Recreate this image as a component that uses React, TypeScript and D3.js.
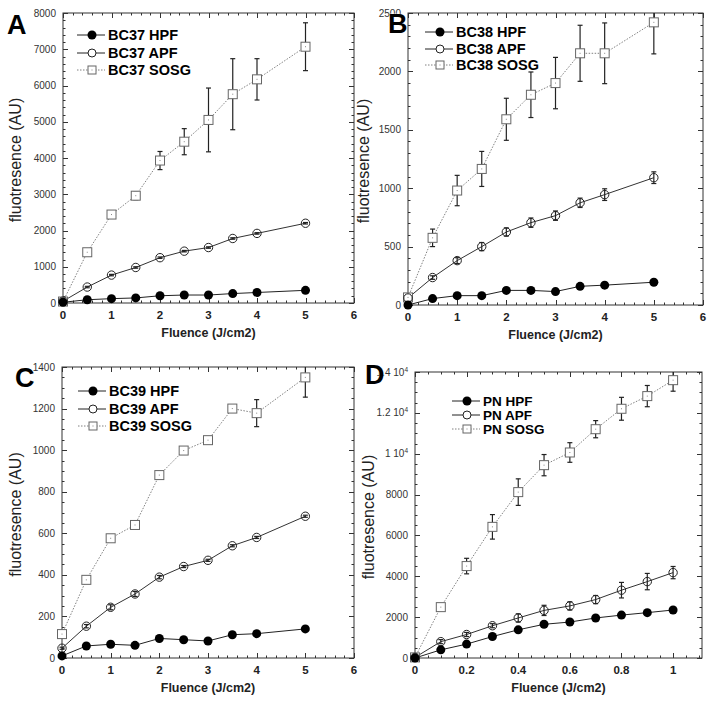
import { useEffect, useRef } from 'react'
import * as d3 from 'd3'

// fluence values
const xBC = [0, 0.5, 1, 1.5, 2, 2.5, 3, 3.5, 4, 5]
const xPN = [0, 0.1, 0.2, 0.3, 0.4, 0.5, 0.6, 0.7, 0.8, 0.9, 1]

// panel A - BC37
const bc37Hpf = [20, 90, 120, 140, 200, 220, 220, 260, 290, 350]
const bc37Apf = [50, 440, 770, 980, 1250, 1430, 1530, 1780, 1920, 2200]
const bc37ApfErr = [0, 20, 20, 20, 20, 20, 20, 20, 20, 20]
const bc37Sosg = [40, 1400, 2440, 2960, 3930, 4450, 5050, 5760, 6170, 7070]
const bc37SosgErr = [0, 60, 80, 110, 250, 360, 880, 980, 570, 660]

// panel B - BC38
const bc38Hpf = [0, 55, 80, 80, 125, 125, 115, 160, 170, 195]
const bc38Apf = [60, 235, 380, 500, 625, 705, 765, 875, 945, 1090]
const bc38ApfErr = [0, 15, 25, 35, 35, 40, 40, 40, 50, 50]
const bc38Sosg = [65, 575, 980, 1165, 1590, 1800, 1900, 2155, 2155, 2420]
const bc38SosgErr = [0, 75, 130, 150, 180, 195, 220, 240, 260, 270]

// panel C - BC39
const bc39Hpf = [10, 58, 66, 61, 94, 88, 82, 112, 117, 140]
const bc39Apf = [47, 153, 244, 308, 389, 440, 470, 540, 580, 682]
const bc39ApfErr = [5, 8, 12, 12, 8, 5, 5, 5, 5, 5]
const bc39Sosg = [115, 376, 576, 640, 880, 998, 1048, 1200, 1178, 1350]
const bc39SosgErr = [0, 0, 0, 0, 0, 0, 0, 0, 65, 95]

// panel D - PN
const pnHpf = [0, 400, 680, 1050, 1380, 1650, 1760, 1960, 2100, 2220, 2350]
const pnApf = [30, 800, 1150, 1580, 1960, 2330, 2550, 2860, 3320, 3740, 4180]
const pnApfErr = [0, 100, 100, 100, 200, 250, 200, 200, 380, 400, 300]
const pnSosg = [30, 2490, 4500, 6420, 8120, 9440, 10060, 11200, 12200, 12820, 13600]
const pnSosgErr = [0, 100, 380, 600, 650, 520, 480, 420, 560, 520, 540]

const yTicksA = [0, 1000, 2000, 3000, 4000, 5000, 6000, 7000, 8000]
const yTicksB = [0, 500, 1000, 1500, 2000, 2500]
const yTicksC = [0, 200, 400, 600, 800, 1000, 1200, 1400]
const yTicksD = [0, 2000, 4000, 6000, 8000, 10000, 12000, 14000]
const xTicksBC = [0, 1, 2, 3, 4, 5, 6]
const xTicksPN = [0, 0.2, 0.4, 0.6, 0.8, 1]

type Panel = {
  letter: string
  name: string
  left: number; right: number; top: number; bottom: number
  xs: number[]
  xMax: number; xTicks: number[]; xMinor: number
  yMax: number; yTicks: number[]; yMinor: number
  hpf: number[]; apf: number[]; apfErr: number[]; sosg: number[]; sosgErr: number[]
  letterX: number; letterY: number
  legX: number; legY: number[]; legFont: number
  yTitleX: number
  yFmt: (v: number) => string
}

const fmtPlain = (v: number) => String(v)
const fmtSci = (v: number) => (v >= 10000 ? `${v / 10000} 10|4` : String(v))

const panels: Panel[] = [
  {
    letter: 'A', name: 'BC37', left: 63, right: 354, top: 13, bottom: 303,
    xs: xBC, xMax: 6, xTicks: xTicksBC, xMinor: 0.2,
    yMax: 8000, yTicks: yTicksA, yMinor: 200,
    hpf: bc37Hpf, apf: bc37Apf, apfErr: bc37ApfErr, sosg: bc37Sosg, sosgErr: bc37SosgErr,
    letterX: 7, letterY: 34, legX: 77, legY: [35, 53, 70], legFont: 14.5, yTitleX: 15, yFmt: fmtPlain,
  },
  {
    letter: 'B', name: 'BC38', left: 408, right: 703, top: 13, bottom: 305,
    xs: xBC, xMax: 6, xTicks: xTicksBC, xMinor: 0.2,
    yMax: 2500, yTicks: yTicksB, yMinor: 100,
    hpf: bc38Hpf, apf: bc38Apf, apfErr: bc38ApfErr, sosg: bc38Sosg, sosgErr: bc38SosgErr,
    letterX: 388, letterY: 33, legX: 425, legY: [32, 49, 65], legFont: 14.5, yTitleX: 363, yFmt: fmtPlain,
  },
  {
    letter: 'C', name: 'BC39', left: 62, right: 354, top: 367, bottom: 658,
    xs: xBC, xMax: 6, xTicks: xTicksBC, xMinor: 0.2,
    yMax: 1400, yTicks: yTicksC, yMinor: 50,
    hpf: bc39Hpf, apf: bc39Apf, apfErr: bc39ApfErr, sosg: bc39Sosg, sosgErr: bc39SosgErr,
    letterX: 15, letterY: 387, legX: 78, legY: [391, 409, 426], legFont: 14.5, yTitleX: 15, yFmt: fmtPlain,
  },
  {
    letter: 'D', name: 'PN', left: 415, right: 702, top: 372, bottom: 658,
    xs: xPN, xMax: 1.112, xTicks: xTicksPN, xMinor: 0.05,
    yMax: 14000, yTicks: yTicksD, yMinor: 500,
    hpf: pnHpf, apf: pnApf, apfErr: pnApfErr, sosg: pnSosg, sosgErr: pnSosgErr,
    letterX: 365, letterY: 384, legX: 452, legY: [401, 415, 429], legFont: 13.5, yTitleX: 368, yFmt: fmtSci,
  },
]

const FONT = '"Liberation Sans", Arial, Helvetica, sans-serif'
const GREY = '#808080'

function drawPanel(svg: d3.Selection<SVGSVGElement, unknown, null, undefined>, p: Panel) {
  const x = d3.scaleLinear().domain([0, p.xMax]).range([p.left, p.right])
  const y = d3.scaleLinear().domain([0, p.yMax]).range([p.bottom, p.top])
  const g = svg.append('g')

  // frame
  g.append('rect')
    .attr('x', p.left).attr('y', p.top)
    .attr('width', p.right - p.left).attr('height', p.bottom - p.top)
    .attr('fill', 'none').attr('stroke', '#333').attr('stroke-width', 1)

  // ticks on all four sides, pointing inward
  const xMinorTicks = d3.range(0, p.xMax + 1e-9, p.xMinor)
  const yMinorTicks = d3.range(0, p.yMax + 1e-9, p.yMinor)
  const isMajor = (v: number, list: number[]) => list.some(t => Math.abs(t - v) < 1e-6)
  const tk = g.append('g').attr('stroke', '#333').attr('stroke-width', 1)
  xMinorTicks.forEach(v => {
    const len = isMajor(v, p.xTicks) ? 5 : 2.5
    const xx = Math.round(x(v)) + 0.5
    tk.append('line').attr('x1', xx).attr('x2', xx).attr('y1', p.bottom).attr('y2', p.bottom - len)
    tk.append('line').attr('x1', xx).attr('x2', xx).attr('y1', p.top).attr('y2', p.top + len)
  })
  yMinorTicks.forEach(v => {
    const len = isMajor(v, p.yTicks) ? 5 : 2.5
    const yy = Math.round(y(v)) + 0.5
    tk.append('line').attr('y1', yy).attr('y2', yy).attr('x1', p.left).attr('x2', p.left + len)
    tk.append('line').attr('y1', yy).attr('y2', yy).attr('x1', p.right).attr('x2', p.right - len)
  })

  // y tick labels
  p.yTicks.forEach(v => {
    const s = p.yFmt(v)
    const t = g.append('text')
      .attr('x', p.left - 7).attr('y', y(v) + 3.5)
      .attr('text-anchor', 'end')
      .attr('font-family', FONT).attr('font-size', 10).attr('fill', '#333')
    if (s.includes('|')) {
      const [base, exp] = s.split('|')
      t.append('tspan').text(base)
      t.append('tspan').attr('font-size', 6.5).attr('dy', -4).text(exp)
    } else {
      t.text(s)
    }
  })

  // x tick labels
  g.selectAll('text.xt').data(p.xTicks).join('text')
    .attr('class', 'xt')
    .attr('x', d => x(d)).attr('y', p.bottom + 16)
    .attr('text-anchor', 'middle')
    .attr('font-family', FONT).attr('font-size', 11.5).attr('font-weight', 'bold').attr('fill', '#222')
    .text(d => String(d))

  // axis titles
  g.append('text')
    .attr('x', (p.left + p.right) / 2).attr('y', p.bottom + 34)
    .attr('text-anchor', 'middle')
    .attr('font-family', FONT).attr('font-size', 12.5).attr('font-weight', 'bold').attr('fill', '#222')
    .text('Fluence (J/cm2)')
  g.append('text')
    .attr('transform', `translate(${p.yTitleX + 5.5},${(p.top + p.bottom) / 2 + 2}) rotate(-90)`)
    .attr('text-anchor', 'middle')
    .attr('font-family', FONT).attr('font-size', 16).attr('fill', '#222')
    .text('fluotresence (AU)')

  const line = d3.line<number>().x((_, i) => x(p.xs[i])).y(d => y(d))

  // SOSG
  g.append('path').attr('d', line(p.sosg)).attr('fill', 'none')
    .attr('stroke', GREY).attr('stroke-width', 1).attr('stroke-dasharray', '1.5,1.5')
  // APF
  g.append('path').attr('d', line(p.apf)).attr('fill', 'none')
    .attr('stroke', '#333').attr('stroke-width', 1)
  // HPF
  g.append('path').attr('d', line(p.hpf)).attr('fill', 'none')
    .attr('stroke', '#222').attr('stroke-width', 1)

  const errBars = (vals: number[], errs: number[]) => {
    vals.forEach((v, i) => {
      const e = errs[i]
      if (!e) return
      const xx = x(p.xs[i])
      const y1 = y(Math.min(p.yMax, v + e))
      const y2 = y(v - e)
      g.append('line').attr('x1', xx).attr('x2', xx).attr('y1', y1).attr('y2', y2)
        .attr('stroke', '#222').attr('stroke-width', 1.2)
      if (v + e <= p.yMax)
        g.append('line').attr('x1', xx - 2.5).attr('x2', xx + 2.5).attr('y1', y1).attr('y2', y1)
          .attr('stroke', '#222').attr('stroke-width', 1.2)
      g.append('line').attr('x1', xx - 2.5).attr('x2', xx + 2.5).attr('y1', y2).attr('y2', y2)
        .attr('stroke', '#222').attr('stroke-width', 1.2)
    })
  }

  errBars(p.sosg, p.sosgErr)
  errBars(p.apf, p.apfErr)

  // markers
  g.selectAll('rect.sq').data(p.sosg).join('rect')
    .attr('class', 'sq')
    .attr('x', (_, i) => x(p.xs[i]) - 4.5).attr('y', d => y(d) - 4.5)
    .attr('width', 9).attr('height', 9)
    .attr('fill', 'white').attr('stroke', '#666').attr('stroke-width', 1)
  g.selectAll('rect.dot').data(p.sosg).join('rect')
    .attr('class', 'dot')
    .attr('x', (_, i) => x(p.xs[i]) - 0.5).attr('y', d => y(d) - 0.5)
    .attr('width', 1).attr('height', 1).attr('fill', '#888')
  g.selectAll('circle.apf').data(p.apf).join('circle')
    .attr('class', 'apf')
    .attr('cx', (_, i) => x(p.xs[i])).attr('cy', d => y(d)).attr('r', 4.2)
    .attr('fill', 'none').attr('stroke', '#222').attr('stroke-width', 1)
  g.selectAll('circle.hpf').data(p.hpf).join('circle')
    .attr('class', 'hpf')
    .attr('cx', (_, i) => x(p.xs[i])).attr('cy', d => y(d)).attr('r', 4.5)
    .attr('fill', '#000')

  // legend
  const lx0 = p.legX, lx1 = p.legX + 28, mx = p.legX + 15
  const labels = [`${p.name} HPF`, `${p.name} APF`, `${p.name} SOSG`]
  labels.forEach((lab, i) => {
    const ly = p.legY[i]
    const row = g.append('g')
    if (i === 2) {
      row.append('line').attr('x1', lx0).attr('x2', lx1).attr('y1', ly).attr('y2', ly)
        .attr('stroke', GREY).attr('stroke-dasharray', '1.5,1.5')
      row.append('rect').attr('x', mx - 4).attr('y', ly - 4).attr('width', 8).attr('height', 8)
        .attr('fill', 'white').attr('stroke', '#666')
      row.append('rect').attr('x', mx - 0.5).attr('y', ly - 0.5).attr('width', 1).attr('height', 1).attr('fill', '#888')
    } else {
      row.append('line').attr('x1', lx0).attr('x2', lx1).attr('y1', ly).attr('y2', ly)
        .attr('stroke', '#222')
      if (i === 0) row.append('circle').attr('cx', mx).attr('cy', ly).attr('r', 4.5).attr('fill', '#000')
      else row.append('circle').attr('cx', mx).attr('cy', ly).attr('r', 4).attr('fill', 'white').attr('stroke', '#222')
    }
    row.append('text')
      .attr('x', lx1 + 3).attr('y', ly + p.legFont * 0.36)
      .attr('font-family', FONT).attr('font-size', p.legFont).attr('font-weight', 'bold').attr('fill', '#000')
      .text(lab)
  })

  // panel letter
  g.append('text')
    .attr('x', p.letterX).attr('y', p.letterY)
    .attr('font-family', FONT).attr('font-size', 27).attr('font-weight', 'bold').attr('fill', '#000')
    .attr('stroke', 'white').attr('stroke-width', 0.5).attr('paint-order', 'stroke')
    .text(p.letter)
}

export default function App() {
  const ref = useRef<SVGSVGElement | null>(null)

  useEffect(() => {
    const el = ref.current
    if (!el) return
    const svg = d3.select(el)
    svg.selectAll('*').remove()
    svg.append('rect').attr('width', 713).attr('height', 702).attr('fill', 'white')
    panels.forEach(p => drawPanel(svg, p))
  }, [])

  return (
    <svg
      ref={ref}
      width={713}
      height={702}
      style={{ position: 'absolute', left: 0, top: 0, display: 'block' }}
    />
  )
}
